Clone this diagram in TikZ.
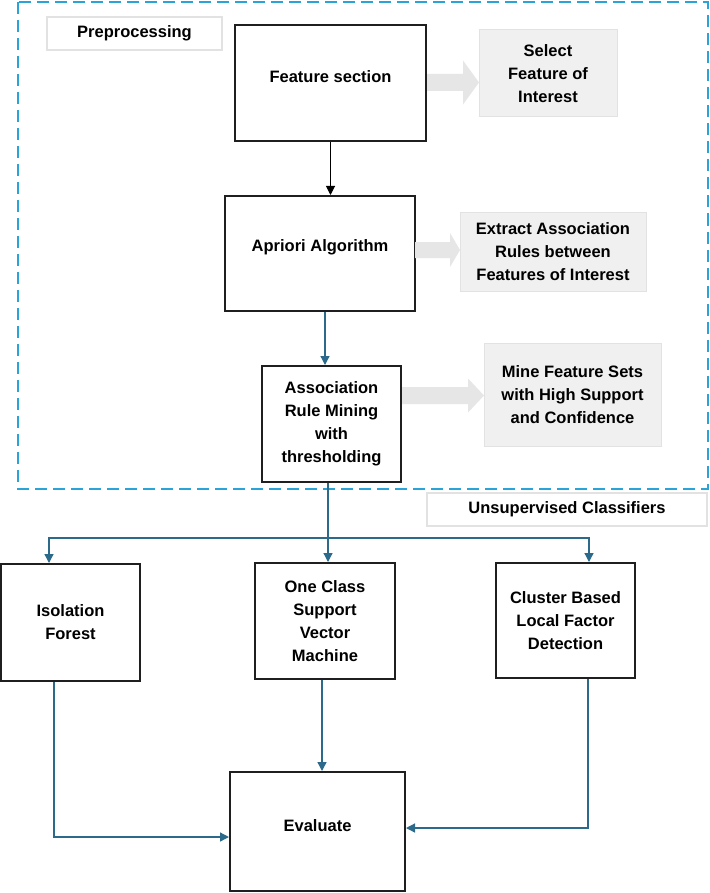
\documentclass[tikz,border=0pt]{standalone}
\usepackage{fontspec}
\setmainfont{Liberation Sans}
\usetikzlibrary{arrows.meta,calc}
\definecolor{dashblue}{HTML}{2AA3D6}
\definecolor{conn}{HTML}{2B6A8A}
\definecolor{arrgray}{HTML}{E6E6E6}
\definecolor{notefill}{HTML}{F0F0F0}
\definecolor{noteline}{HTML}{E2E2E2}
\tikzset{
  every node/.style={font=\fontsize{16.5}{23}\selectfont\bfseries, align=center, inner sep=2pt},
  mainbox/.style={draw=black!88, line width=2pt, fill=white},
  notebox/.style={draw=noteline, line width=1pt, fill=notefill},
  labelbox/.style={draw=noteline, line width=1.2pt, fill=white},
  link/.style={draw=conn, line width=1.3pt, -{Triangle[length=9pt,width=9pt]}},
  blacklink/.style={draw=black, line width=1pt, -{Triangle[length=9pt,width=9pt]}},
  blockarr/.style={fill=arrgray, draw=none}
}
\newcommand{\liftup}[1]{\raisebox{6pt}[\height][\depth]{#1}}
\newcommand{\blockarrow}[6]{%
  \fill[blockarr] (#1,#4-#5) -- (#3,#4-#5) -- (#3,#4-#6) -- (#2,#4) -- (#3,#4+#6) -- (#3,#4+#5) -- (#1,#4+#5) -- cycle;}
\begin{document}
\begin{tikzpicture}[x=1pt,y=-1pt]
\useasboundingbox (0,0) rectangle (709,893);
\fill[white] (0,0) rectangle (709,893);
% dashed preprocessing frame
\draw[dashblue, line width=2pt, dash pattern=on 12pt off 6pt] (18,2) rectangle (707.5,489);
% labels
\node[labelbox, minimum width=175pt, minimum height=33pt] (pre) at (134.5,33.5) {Preprocessing};
\node[labelbox, minimum width=280pt, minimum height=33pt] (uns) at (567,509.5) {Unsupervised Classifiers};
% main boxes
\node[mainbox, minimum width=191pt, minimum height=116pt] (fs) at (330.5,83) {\liftup{Feature section}};
\node[mainbox, minimum width=190pt, minimum height=115pt] (apr) at (320,253.5) {\liftup{Apriori Algorithm}};
\node[mainbox, minimum width=139pt, minimum height=116pt] (arm) at (331.5,424) {Association\\Rule Mining\\with\\thresholding};
\node[mainbox, minimum width=139pt, minimum height=117pt] (iso) at (70.5,622.5) {Isolation\\Forest};
\node[mainbox, minimum width=140pt, minimum height=116pt] (oc) at (325,621) {One Class\\Support\\Vector\\Machine};
\node[mainbox, minimum width=139pt, minimum height=115pt] (cb) at (565.5,620.5) {Cluster Based\\Local Factor\\Detection};
\node[mainbox, minimum width=175pt, minimum height=119pt] (ev) at (317.5,831.5) {\liftup{Evaluate}};
% note boxes
\node[notebox, minimum width=138pt, minimum height=87pt] (sel) at (548,73.5) {Select\\Feature of\\Interest};
\node[notebox, minimum width=186pt, minimum height=78pt] (ext) at (553,252) {Extract Association\\Rules between\\Features of Interest};
\node[notebox, minimum width=177pt, minimum height=103pt] (mine) at (572.5,394.5) {Mine Feature Sets\\with High Support\\and Confidence};
% block arrows
\blockarrow{427}{479}{463}{82.5}{8.5}{22}
\blockarrow{415}{460}{450}{250}{8}{17}
\blockarrow{402}{484}{468}{395.5}{8.5}{17}
% connectors
\draw[blacklink] (fs.south) -- (fs.south |- apr.north);
\coordinate (a1) at (325,0);
\draw[link] (a1 |- apr.south) -- (a1 |- arm.north);
\coordinate (sp) at (328,538);
\draw[conn, line width=1.3pt] (arm.south -| sp) -- (sp);
\draw[link] (sp) -- (sp |- oc.north);
\coordinate (spl) at (49,538);
\coordinate (spr) at (589,538);
\draw[link] (sp) -- (spl) -- (spl |- iso.north);
\draw[link] (sp) -- (spr) -- (spr |- cb.north);
\coordinate (il) at (54,837);
\draw[link] (il |- iso.south) -- (il) -- (il -| ev.west);
\coordinate (ocl) at (322,0);
\draw[link] (ocl |- oc.south) -- (ocl |- ev.north);
\coordinate (cl) at (588,828);
\draw[link] (cl |- cb.south) -- (cl) -- (cl -| ev.east);
\end{tikzpicture}
\end{document}
